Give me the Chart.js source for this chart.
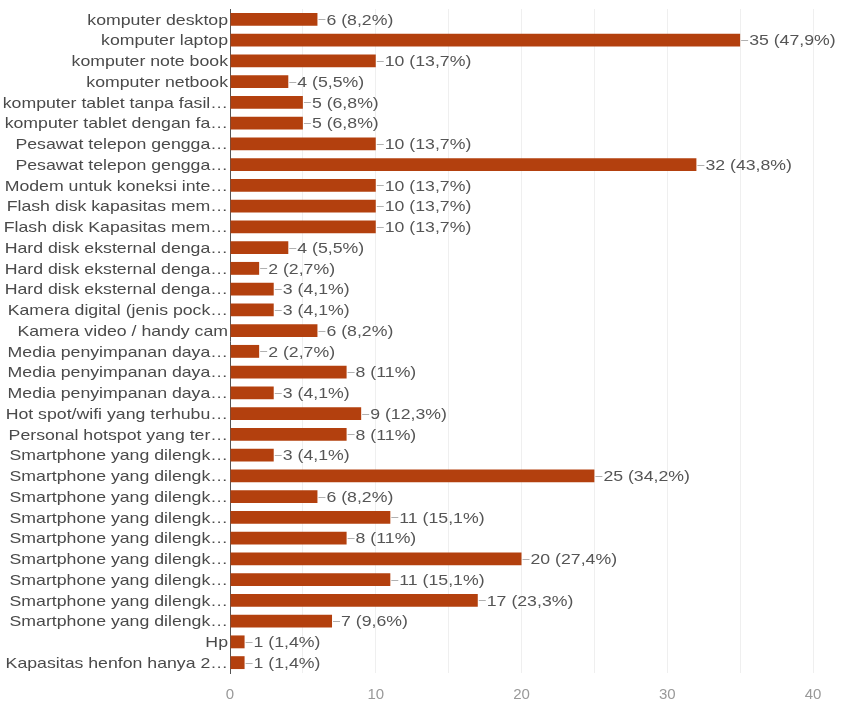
<!DOCTYPE html>
<html>
<head>
<meta charset="utf-8">
<script src="https://cdn.jsdelivr.net/npm/chart.js@4/dist/chart.umd.min.js"></script>
<style>
  html, body { margin: 0; padding: 0; background: #fff; }
  #wrap { width: 844px; height: 703px; }
</style>
</head>
<body>
<div id="wrap"><canvas id="myChart" width="844" height="703"></canvas></div>
<script>
// data
var categories = [
  'komputer desktop', 'komputer laptop', 'komputer note book', 'komputer netbook',
  'komputer tablet tanpa fasil\u2026', 'komputer tablet dengan fa\u2026',
  'Pesawat telepon gengga\u2026', 'Pesawat telepon gengga\u2026',
  'Modem untuk koneksi inte\u2026', 'Flash disk kapasitas mem\u2026', 'Flash disk Kapasitas mem\u2026',
  'Hard disk eksternal denga\u2026', 'Hard disk eksternal denga\u2026', 'Hard disk eksternal denga\u2026',
  'Kamera digital (jenis pock\u2026', 'Kamera video / handy cam',
  'Media penyimpanan daya\u2026', 'Media penyimpanan daya\u2026', 'Media penyimpanan daya\u2026',
  'Hot spot/wifi yang terhubu\u2026', 'Personal hotspot yang ter\u2026',
  'Smartphone yang dilengk\u2026', 'Smartphone yang dilengk\u2026', 'Smartphone yang dilengk\u2026',
  'Smartphone yang dilengk\u2026', 'Smartphone yang dilengk\u2026', 'Smartphone yang dilengk\u2026',
  'Smartphone yang dilengk\u2026', 'Smartphone yang dilengk\u2026', 'Smartphone yang dilengk\u2026',
  'Hp', 'Kapasitas henfon hanya 2\u2026'
];
var counts = [6, 35, 10, 4, 5, 5, 10, 32, 10, 10, 10, 4, 2, 3, 3, 6, 2, 8, 3, 9, 8,
  3, 25, 6, 11, 8, 20, 11, 17, 7, 1, 1];
var totalRespondents = 73;
var xTicks = [0, 10, 20, 30, 40];

var FONT = '15px "Liberation Sans", Arial, sans-serif';
var STRETCH = 1.18; // teks di gambar asli agak melebar

function pctText(v) {
  var p = (v / totalRespondents * 100).toFixed(1).replace('.', ',');
  if (p.slice(-2) === ',0') p = p.slice(0, -2);
  return v + ' (' + p + '%)';
}

function wideText(c, text, x, y, align) {
  c.save();
  c.translate(x, y);
  c.scale(STRETCH, 1);
  c.textAlign = align;
  c.fillText(text, 0, 0);
  c.restore();
}

// label kategori + label "—6 (8,2%)" di ujung setiap bar
var textLabels = {
  id: 'textLabels',
  afterDatasetsDraw: function(chart) {
    var c = chart.ctx;
    var meta = chart.getDatasetMeta(0);
    var yScale = chart.scales.y;
    c.save();
    c.font = FONT;
    c.textBaseline = 'middle';
    categories.forEach(function(lbl, i) {
      c.fillStyle = '#4a4a4a';
      wideText(c, lbl, yScale.right - 2, yScale.getPixelForValue(i) + 1, 'right');
    });
    meta.data.forEach(function(bar, i) {
      c.strokeStyle = '#b0b0b0';
      c.lineWidth = 1;
      c.beginPath();
      c.moveTo(bar.x + 1, Math.round(bar.y) + 0.5);
      c.lineTo(bar.x + 8, Math.round(bar.y) + 0.5);
      c.stroke();
      c.fillStyle = '#555';
      wideText(c, pctText(counts[i]), bar.x + 9, bar.y + 1, 'left');
    });
    c.restore();
  }
};

var ctx = document.getElementById('myChart').getContext('2d');
var chart = new Chart(ctx, {
  type: 'bar',
  data: {
    labels: categories,
    datasets: [{
      data: counts,
      backgroundColor: '#b3400e',
      borderWidth: 0,
      barPercentage: 0.62,
      categoryPercentage: 1
    }]
  },
  options: {
    indexAxis: 'y',
    responsive: false,
    animation: false,
    layout: { padding: { top: 9, right: 31, bottom: 0, left: 0 } },
    plugins: {
      legend: { display: false },
      tooltip: { enabled: false }
    },
    scales: {
      x: {
        min: 0,
        max: 40,
        ticks: {
          stepSize: 5,
          color: '#999',
          font: { family: '"Liberation Sans", Arial, sans-serif', size: 15 },
          padding: 13,
          callback: function(v) { return xTicks.indexOf(v) >= 0 ? v : ''; }
        },
        grid: { color: '#efefef', drawTicks: false },
        border: { display: false },
        afterFit: function(scale) { scale.height = 30; }
      },
      y: {
        ticks: { display: false },
        grid: { display: false, drawTicks: false },
        border: { display: true, color: '#555', width: 1 },
        afterFit: function(scale) { scale.width = 230; }
      }
    }
  },
  plugins: [textLabels]
});
</script>
</body>
</html>
